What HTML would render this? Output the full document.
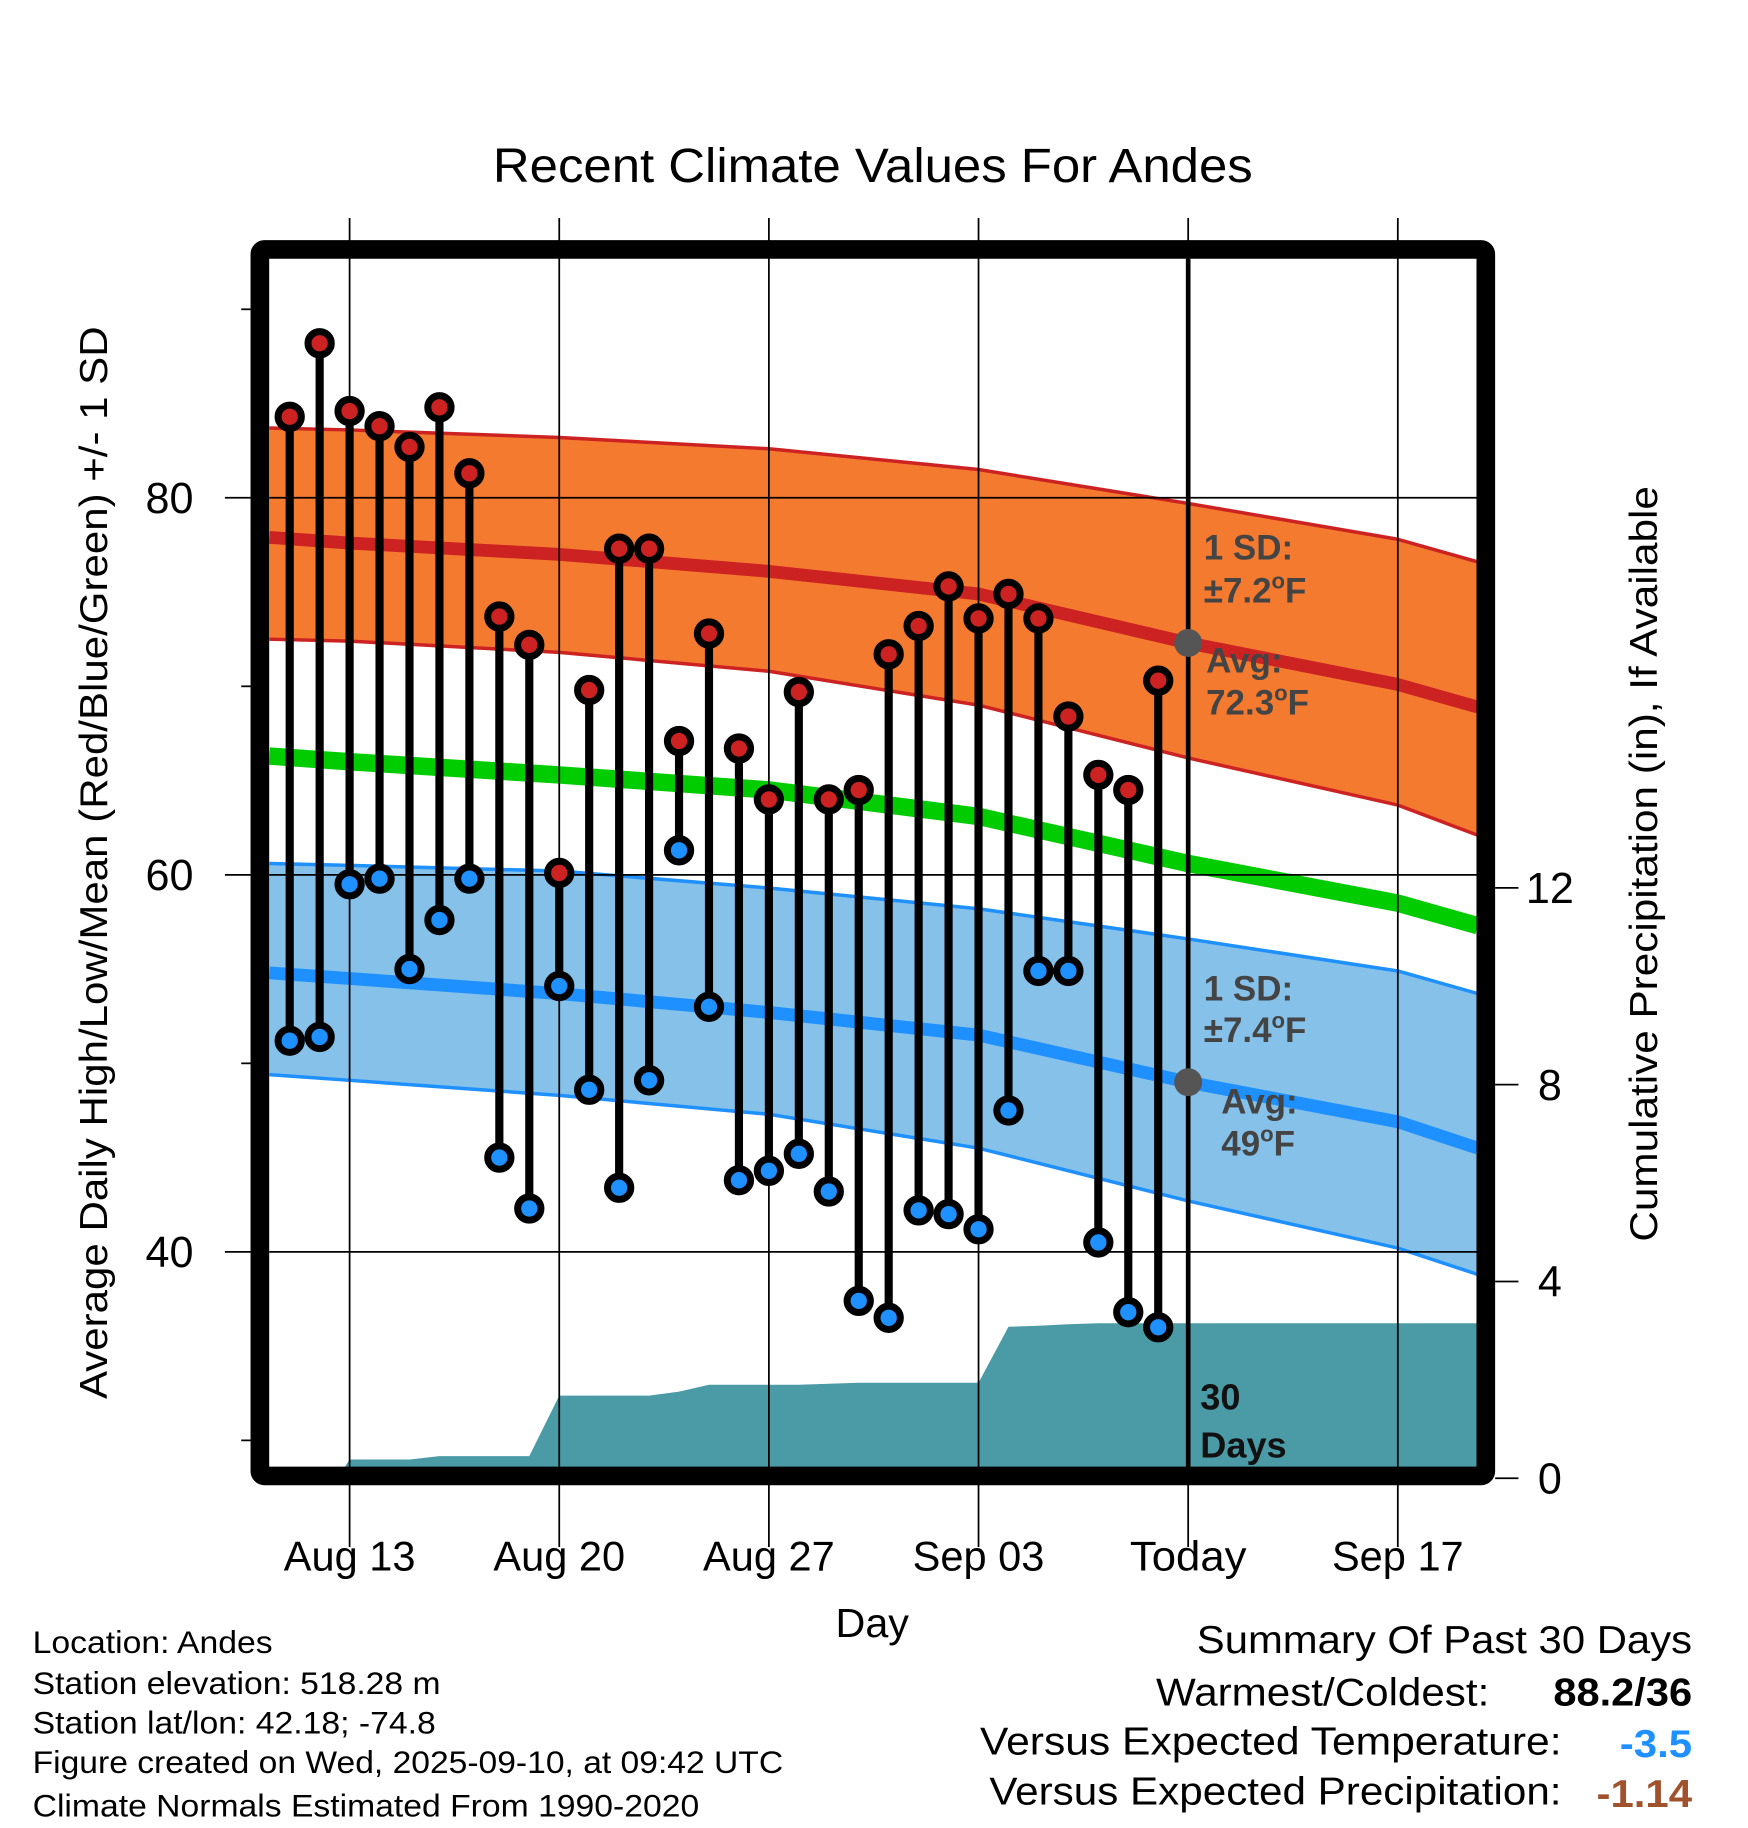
<!DOCTYPE html>
<html><head><meta charset="utf-8"><style>
html,body{margin:0;padding:0;background:#fff}
svg{display:block;font-family:"Liberation Sans",sans-serif}
</style></head><body>
<svg id="chart" width="1748" height="1828" viewBox="0 0 1500 1568" preserveAspectRatio="none" xmlns="http://www.w3.org/2000/svg">
<text x="423" y="156" font-size="41" textLength="652" lengthAdjust="spacingAndGlyphs">Recent Climate Values For Andes</text>
<g id="layer"></g>
</svg>
<script>
// ---- data ----
const dayLabels = ["Aug 13","Aug 20","Aug 27","Sep 03","Today","Sep 17"];
const dayLabelDays = [3,10,17,24,31,38];
const obsDays = [1,2,3,4,5,6,7,8,9,10,11,12,13,14,15,16,17,18,19,20,21,22,23,24,25,26,27,28,29,30];
const highs = [84.3,88.2,84.6,83.8,82.7,84.8,81.3,73.7,72.2,60.1,69.8,77.3,77.3,67.1,72.8,66.7,64.0,69.7,64.0,64.5,71.7,73.2,75.3,73.6,74.9,73.6,68.4,65.3,64.5,70.3];
const lows = [51.2,51.4,59.5,59.8,55.0,57.6,59.8,45.0,42.3,54.1,48.6,43.4,49.1,61.3,53.0,43.8,44.3,45.2,43.2,37.4,36.5,42.2,42.0,41.2,47.5,54.9,54.9,40.5,36.8,36.0];
const normDays = [0.32,3,10,17,24,31,38,40.67];
const normHigh = [77.9,77.6,77.0,76.1,74.9,72.3,70.1,68.9];
const normHighUp = [83.7,83.6,83.2,82.6,81.5,79.7,77.8,76.6];
const normHighLo = [72.5,72.4,71.8,70.8,69.0,66.2,63.7,62.1];
const normLow = [54.8,54.5,53.7,52.7,51.5,49.0,46.9,45.5];
const normLowUp = [60.6,60.5,60.2,59.3,58.2,56.6,54.9,53.7];
const normLowLo = [49.4,49.1,48.3,47.3,45.5,42.7,40.2,38.8];
const normMean = [66.3,66.0,65.3,64.5,63.1,60.6,58.5,57.3];
const precipDays = [2.6,3,4,5,6,7,8,9,10,11,12,13,14,15,16,17,18,19,20,21,22,23,24,25,26,27,28,29,30,31,40.67];
const precipCum = [0,0.38,0.38,0.38,0.45,0.45,0.45,0.45,1.68,1.68,1.68,1.68,1.76,1.90,1.90,1.90,1.90,1.92,1.94,1.94,1.94,1.94,1.94,3.08,3.10,3.13,3.15,3.15,3.15,3.15,3.15];
const leftTicks = [40,60,80];
const minorTicks = [30,50,70,90];
const rightTicks = [0,4,8,12];

// ---- axes ----
const X0=231,X1=1268,Y0=222,Y1=1259;
const xs = d => 300 + (d-3)*25.7;
const ys = t => 427 + (80-t)*16.17;
const yp = p => 1268 - p*42.2;
const NS="http://www.w3.org/2000/svg";
const layer=document.getElementById('layer');
function mk(tag,attrs,parent){const e=document.createElementNS(NS,tag);for(const k in attrs)e.setAttribute(k,attrs[k]);(parent||layer).appendChild(e);return e;}
function band(days,up,lo,f){let p=days.map((d,i)=>xs(d)+','+f(up[i]));for(let i=days.length-1;i>=0;i--)p.push(xs(days[i])+','+f(lo[i]));return p.join(' ');}
function line(days,v,f){return days.map((d,i)=>xs(d)+','+f(v[i])).join(' ');}

const defs=mk('defs',{});const cp=mk('clipPath',{id:'clip'},defs);mk('rect',{x:X0,y:Y0,width:X1-X0,height:Y1-Y0},cp);
const g=mk('g',{'clip-path':'url(#clip)'});

let e;
e=mk('polygon',{points:band(normDays,normHighUp,normHighLo,ys),fill:'#f47a30'},g);


e=mk('polyline',{points:line(normDays,normHighUp,ys),fill:'none',stroke:'#cc2222','stroke-width':3},g);


e=mk('polyline',{points:line(normDays,normHighLo,ys),fill:'none',stroke:'#cc2222','stroke-width':3},g);


e=mk('polygon',{points:band(normDays,normLowUp,normLowLo,ys),fill:'#85c1e9'},g);


e=mk('polyline',{points:line(normDays,normLowUp,ys),fill:'none',stroke:'#1e90ff','stroke-width':3},g);


e=mk('polyline',{points:line(normDays,normLowLo,ys),fill:'none',stroke:'#1e90ff','stroke-width':3},g);


e=mk('polyline',{points:line(normDays,normHigh,ys),fill:'none',stroke:'#cc2222','stroke-width':11},g);


e=mk('polyline',{points:line(normDays,normLow,ys),fill:'none',stroke:'#1e90ff','stroke-width':11},g);


e=mk('polyline',{points:line(normDays,normMean,ys),fill:'none',stroke:'#00cc00','stroke-width':15},g);


// precip
let pp=precipDays.map((d,i)=>xs(d)+','+yp(precipCum[i]));pp.push(xs(precipDays[precipDays.length-1])+','+yp(0));pp.push(xs(precipDays[0])+','+yp(0));
e=mk('polygon',{points:pp.join(' '),fill:'#4a9ba6'},g);


// gridlines
leftTicks.forEach(t=>{e=mk('line',{x1:X0,x2:X1,y1:ys(t),y2:ys(t),stroke:'#000','stroke-width':1.5});

});
dayLabelDays.forEach(d=>{e=mk('line',{x1:xs(d),x2:xs(d),y1:187,y2:1327,stroke:'#000','stroke-width':1.5});

});
// today line
e=mk('line',{x1:xs(31),x2:xs(31),y1:Y0,y2:Y1,stroke:'#000','stroke-width':4});


// stems & points
obsDays.forEach((d,i)=>{
 e=mk('line',{x1:xs(d),x2:xs(d),y1:ys(highs[i]),y2:ys(lows[i]),stroke:'#000','stroke-width':7});
 
 
 e=mk('circle',{cx:xs(d),cy:ys(highs[i]),r:10,fill:'#cc2222',stroke:'#000','stroke-width':6});
 
 
 e=mk('circle',{cx:xs(d),cy:ys(lows[i]),r:10,fill:'#1e90ff',stroke:'#000','stroke-width':6});
 
 
});
// avg dots
e=mk('circle',{cx:xs(31),cy:ys(normHigh[5]),r:12,fill:'#555'});


e=mk('circle',{cx:xs(31),cy:ys(normLow[5]),r:12,fill:'#555'});


// frame
e=mk('rect',{x:223,y:214,width:1052,height:1052,fill:'none',stroke:'#000','stroke-width':16,rx:4});


// left ticks
leftTicks.forEach(t=>{
 e=mk('line',{x1:193,x2:215,y1:ys(t),y2:ys(t),stroke:'#000','stroke-width':1.5});
 
 
 e=mk('text',{x:166,y:ys(t)+13,'font-size':37,'text-anchor':'end'});e.textContent=t;
 
 
});
minorTicks.forEach(t=>{e=mk('line',{x1:207,x2:215,y1:ys(t),y2:ys(t),stroke:'#000','stroke-width':1.5});
 
 });
rightTicks.forEach(p=>{
 e=mk('line',{x1:1283,x2:1303,y1:yp(p),y2:yp(p),stroke:'#000','stroke-width':1.5});
 
 
 e=mk('text',{x:1330,y:yp(p)+13,'font-size':37,'text-anchor':'middle'});e.textContent=p;
 
 
});
dayLabels.forEach((l,i)=>{
 const w = l==='Today'?100:113;
 e=mk('text',{x:xs(dayLabelDays[i])-w/2,y:1347,'font-size':36,textLength:w,lengthAdjust:'spacingAndGlyphs'});e.textContent=l;
 
 
});
</script>
<script>
(function(){
const svg=document.getElementById('chart');
const L='lengthAdjust="spacingAndGlyphs"';
const html=`
<text x="717" y="1404" font-size="35" textLength="63" ${L}>Day</text>
<text transform="translate(92,1200) rotate(-90)" font-size="33" textLength="920" ${L}>Average Daily High/Low/Mean (Red/Blue/Green) +/- 1 SD</text>
<text transform="translate(1422,1065) rotate(-90)" font-size="33" textLength="648" ${L}>Cumulative Precipitation (in), If Available</text>
<g font-size="30" font-weight="bold" fill="#444">
<text x="1033" y="480">1 SD:</text><text x="1033" y="517">±7.2<tspan font-size="19" dy="-12">o</tspan><tspan dy="12">F</tspan></text>
<text x="1035" y="577">Avg:</text><text x="1035" y="613">72.3<tspan font-size="19" dy="-12">o</tspan><tspan dy="12">F</tspan></text></g>
<g font-size="30" font-weight="bold" fill="#444">
<text x="1033" y="858">1 SD:</text><text x="1033" y="894">±7.4<tspan font-size="19" dy="-12">o</tspan><tspan dy="12">F</tspan></text>
<text x="1048" y="955">Avg:</text><text x="1048" y="991">49<tspan font-size="19" dy="-12">o</tspan><tspan dy="12">F</tspan></text></g>
<g font-size="31" font-weight="bold" fill="#111">
<text x="1030" y="1209">30</text><text x="1030" y="1250">Days</text></g>
<g font-size="27">
<text x="28" y="1418" textLength="206" ${L}>Location: Andes</text>
<text x="28" y="1453" textLength="350" ${L}>Station elevation: 518.28 m</text>
<text x="28" y="1487" textLength="346" ${L}>Station lat/lon: 42.18; -74.8</text>
<text x="28" y="1521" textLength="644" ${L}>Figure created on Wed, 2025-09-10, at 09:42 UTC</text>
<text x="28" y="1558" textLength="572" ${L}>Climate Normals Estimated From 1990-2020</text></g>
<g font-size="33">
<text x="1027" y="1418" textLength="425" ${L}>Summary Of Past 30 Days</text>
<text x="992" y="1463" textLength="286" ${L}>Warmest/Coldest:</text>
<text x="1333" y="1463" font-weight="bold" textLength="119" ${L}>88.2/36</text>
<text x="841" y="1505" textLength="499" ${L}>Versus Expected Temperature:</text>
<text x="1390" y="1507" font-weight="bold" fill="#1e90ff" textLength="62" ${L}>-3.5</text>
<text x="849" y="1548" textLength="491" ${L}>Versus Expected Precipitation:</text>
<text x="1370" y="1550" font-weight="bold" fill="#a0522d" textLength="82" ${L}>-1.14</text></g>`;
svg.insertAdjacentHTML('beforeend',html);
})();
</script>
</body></html>
